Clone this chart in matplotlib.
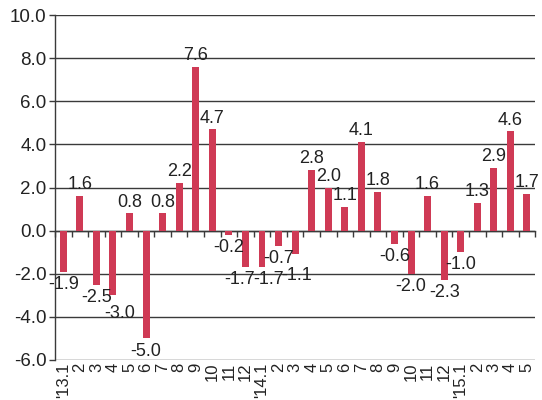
import matplotlib
matplotlib.use("Agg")
import matplotlib.pyplot as plt
import numpy as np

# month-on-month change, Jan 2013 - May 2015
months = ["'13.1", "2", "3", "4", "5", "6", "7", "8", "9", "10", "11", "12",
          "'14.1", "2", "3", "4", "5", "6", "7", "8", "9", "10", "11", "12",
          "'15.1", "2", "3", "4", "5"]
values_2013 = [-1.9, 1.6, -2.5, -3.0, 0.8, -5.0, 0.8, 2.2, 7.6, 4.7, -0.2, -1.7]
values_2014 = [-1.7, -0.7, -1.1, 2.8, 2.0, 1.1, 4.1, 1.8, -0.6, -2.0, 1.6, -2.3]
values_2015 = [-1.0, 1.3, 2.9, 4.6, 1.7]
values = values_2013 + values_2014 + values_2015

ymin, ymax = -6.0, 10.0
bar_color = "#cf3a55"
line_color = "#3a3a3a"
text_color = "#222222"

# extra shift (points) for crowded value labels
label_nudge = {3: (5, -4), 11: (-4, 0), 12: (5, 0), 14: (1, -6)}

plt.rcParams["font.family"] = ["Liberation Sans", "DejaVu Sans"]

fig = plt.figure(figsize=(5.42, 4.0), dpi=100)
ax = fig.add_axes([0.1015, 0.1, 0.886, 0.8625])

x = np.arange(len(values))
bars = ax.bar(x, values, width=0.42, color=bar_color, zorder=3)

for i, (xi, v) in enumerate(zip(x, values)):
    dx, dy = label_nudge.get(i, (0, 0))
    if v >= 0:
        ax.annotate(f"{v:.1f}", (xi, v), xytext=(dx, 2 + dy), textcoords="offset points",
                    ha="center", va="bottom", fontsize=13, color=text_color, zorder=4)
    else:
        ax.annotate(f"{v:.1f}", (xi, v), xytext=(dx, -3 + dy), textcoords="offset points",
                    ha="center", va="top", fontsize=13, color=text_color, zorder=4)

ax.set_xlim(-0.5, len(values) - 0.5)
ax.set_ylim(ymin, ymax)
yticks = np.arange(ymin, ymax + 0.1, 2.0)
ax.set_yticks(yticks)
ax.set_yticklabels([f"{t:.1f}" for t in yticks], fontsize=13.5, color=text_color)
ax.yaxis.grid(True, color=line_color, linewidth=1.0, zorder=0)
ax.tick_params(axis="y", length=4, width=1, color=line_color, pad=2)

# month labels along the bottom edge
ax.set_xticks(x)
ax.set_xticklabels(months, rotation=90, fontsize=12, color=text_color)
ax.tick_params(axis="x", length=0, pad=2)

for side in ["top", "right", "bottom"]:
    ax.spines[side].set_visible(False)
ax.spines["left"].set_color(line_color)
ax.spines["left"].set_linewidth(1.0)

# zero line with category separators
zero_axis = ax.secondary_xaxis((0 - ymin) / (ymax - ymin))
zero_axis.set_xticks(np.arange(len(values) + 1) - 0.5)
zero_axis.set_xticklabels([])
zero_axis.tick_params(axis="x", length=4, width=1, color=line_color, direction="out")
zero_axis.spines["bottom"].set_color(line_color)
zero_axis.spines["bottom"].set_linewidth(1.0)

fig.savefig("out.png", dpi=100)
